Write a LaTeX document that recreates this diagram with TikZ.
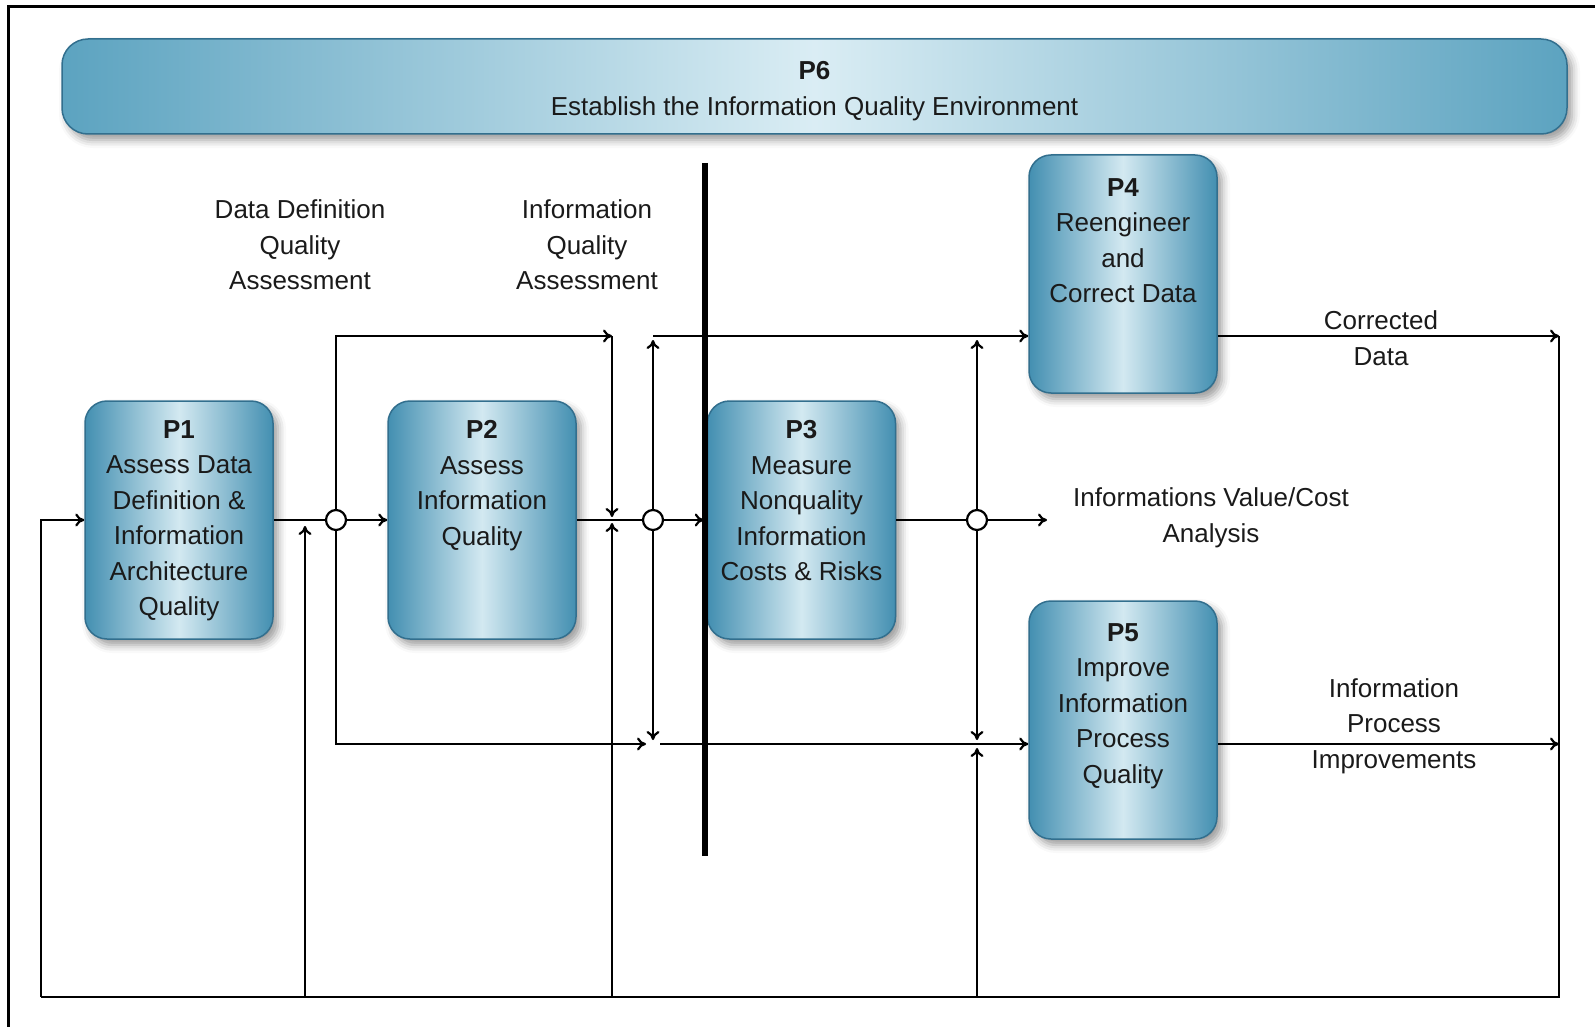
\documentclass[tikz,border=0pt]{standalone}
\usepackage{fontspec}
\setmainfont{Liberation Sans}
\usetikzlibrary{positioning, shadows.blur, arrows.meta}
\definecolor{boxedge}{HTML}{438FB1}
\definecolor{boxmid}{HTML}{D3E9F1}
\definecolor{boxline}{HTML}{326F8E}
\definecolor{baredge}{HTML}{5CA3C0}
\definecolor{barmid}{HTML}{DAEDF4}
\definecolor{txt}{HTML}{1A1A1A}

\begin{document}
\begin{tikzpicture}[x=1pt, y=-1pt, line width=2.2pt, >={To[length=9pt,width=13pt]},
	proc node/.style={rectangle, rounded corners=22pt, draw=boxline, line width=1.5pt, left color=boxedge, right color=boxedge, middle color=boxmid, minimum width=188pt, minimum height=238pt, blur shadow={shadow xshift=5pt, shadow yshift=-6pt, shadow blur radius=8pt, shadow opacity=40}},
	bar node/.style={proc node, rounded corners=26pt, left color=baredge, right color=baredge, middle color=barmid, minimum width=1505pt, minimum height=95pt, align=center, text=txt, font=\fontsize{26}{35.5}\selectfont},
	proc text/.style={align=center, inner sep=0pt, text=txt, font=\fontsize{26}{35.5}\selectfont},
	side text/.style={align=center, inner sep=0pt, text=txt, font=\fontsize{26}{35.5}\selectfont},
	junction/.style={circle, draw, fill=white, minimum size=20pt, inner sep=0pt}]

			\useasboundingbox (0,0) rectangle (1595,1027);
			\draw[line width=3pt] (8,1040) -- (8,7) -- (1610,7);

			% process boxes
			\node[bar node] (p6) at (814.5,86.5) {};
			\node[proc text] (p6t) at (814.5,91) {\textbf{P6}\\Establish the Information Quality Environment};

			\node[proc node] (p1) at (179,520) {};
			\node[proc node] (p2) at (482,520) {};
			\node[proc node] (p3) at (801.5,520) {};
			\node[proc node] (p4) at (1123,274) {};
			\node[proc node] (p5) at (1123,720) {};

			\node[proc text, below=19pt of p1.north] (p1t) {\textbf{P1}\\Assess Data\\Definition \&\\Information\\Architecture\\Quality};
			\node[proc text, below=19pt of p2.north] (p2t) {\textbf{P2}\\Assess\\Information\\Quality};
			\node[proc text, below=19pt of p3.north] (p3t) {\textbf{P3}\\Measure\\Nonquality\\Information\\Costs \& Risks};
			\node[proc text, below=23pt of p4.north] (p4t) {\textbf{P4}\\Reengineer\\and\\Correct Data};
			\node[proc text, below=22pt of p5.north] (p5t) {\textbf{P5}\\Improve\\Information\\Process\\Quality};

			% junctions and corner points
			\node[junction] (j1) at (336,520) {};
			\node[junction] (j2) at (653,520) {};
			\node[junction] (j3) at (977,520) {};

			\coordinate (fb0) at (41,997);
			\coordinate (fb1) at (305,997);
			\coordinate (fb2) at (612,997);
			\coordinate (fb3) at (977,997);
			\coordinate (up2) at (612,336);
			\coordinate (up3) at (653,336);
			\coordinate (up4) at (1559,336);
			\coordinate (lo2) at (646,744);
			\coordinate (lo3) at (660,744);
			\coordinate (lo4) at (1559,744);
			\coordinate (val) at (1047,520);
			\coordinate (bartop) at (705,163);
			\coordinate (barbot) at (705,856);

			% main chain P1 -> P2 -> P3
			\draw (p1) -- (j1);
			\draw[->] (j1) -- (p2);
			\draw (p2) -- (j2);
			\draw[->, shorten >=3pt] (j2) -- (p3);
			\draw (p3) -- (j3);
			\draw[->] (j3) -- (val);

			% branches
			\draw[->] (j1) |- (up2);
			\draw[->, shorten >=3pt] (up2) -- (up2 |- j1);
			\draw[->] (j1) |- (lo2);
			\draw[->, shorten >=4pt] (j2) -- (up3);
			\draw[->] (up3) -- (p4.west |- up3);
			\draw[->, shorten >=4pt] (j2) -- (j2 |- lo2);
			\draw[->] (lo3) -- (p5.west |- lo3);
			\draw[->, shorten >=4pt] (j3) -- (j3 |- up3);
			\draw[->, shorten >=4pt] (j3) -- (j3 |- lo3);

			% outputs and feedback loop
			\draw[->] (p4.east |- up3) -- (up4);
			\draw[->] (p5.east |- lo3) -- (lo4);
			\draw (up4) |- (fb0);
			\draw[->] (fb0) |- (p1);
			\draw[->, shorten >=6pt] (fb1) -- (fb1 |- j1);
			\draw[->, shorten >=3pt] (fb2) -- (fb2 |- j1);
			\draw[->, shorten >=4pt] (fb3) -- (j3 |- lo3);

			\draw[line width=5.5pt] (bartop) -- (barbot);

			% flow labels
			\node[side text] (ddqa) at (300,245) {Data Definition\\Quality\\Assessment};
			\node[side text] (iqa) at (587,245) {Information\\Quality\\Assessment};
			\node[side text] (cd) at (1381,338) {Corrected\\Data};
			\node[side text] (vca) at (1211,518) {Informations Value/Cost\\Analysis};
			\node[side text] (ipi) at (1394,726) {Information\\Process\\Improvements};

		\end{tikzpicture}
\end{document}
